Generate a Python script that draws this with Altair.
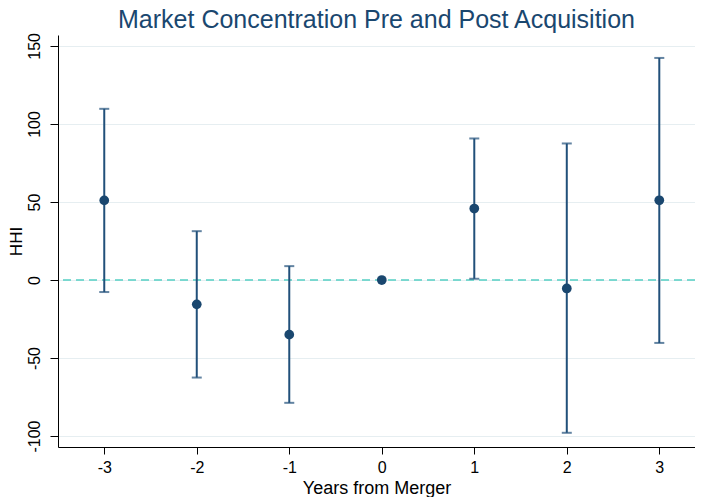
import altair as alt
import pandas as pd

# Data
years = [-3, -2, -1, 0, 1, 2, 3]
hhi = [51.0, -15.6, -35.0, 0.0, 45.8, -5.4, 51.1]
ci_low = [-7.7, -62.5, -78.7, None, 0.8, -97.9, -40.3]
ci_high = [109.7, 31.3, 8.9, None, 90.7, 87.5, 142.3]
x_ticks = [-3, -2, -1, 0, 1, 2, 3]
y_ticks = [-100, -50, 0, 50, 100, 150]

NAVY = "#1a476f"
BAR = "#21507a"
TEAL = "#55d0c4"
FONT = "Liberation Sans"

pts = pd.DataFrame({"year": years, "hhi": hhi})
bars = pd.DataFrame({"year": years, "lo": ci_low, "hi": ci_high}).dropna()
ref = pd.DataFrame({"y": [0]})

xscale = alt.Scale(domain=[-3.5, 3.386], nice=False, zero=False)
yscale = alt.Scale(domain=[-107, 157], nice=False, zero=False)

xaxis = alt.Axis(values=x_ticks, title="Years from Merger", grid=False,
                 labelFontSize=16, titleFontSize=18, tickSize=7,
                 labelPadding=5, titlePadding=4, labelExpr="datum.value + ''",
                 titleFontWeight="normal")
yaxis = alt.Axis(values=y_ticks, title="HHI", grid=True, gridColor="#e6eef1",
                 gridWidth=1.2, labelAngle=-90, labelAlign="center",
                 labelBaseline="bottom", labelFontSize=16, titleFontSize=17,
                 tickSize=8, labelPadding=8, titlePadding=1,
                 labelExpr="datum.value + ''", titleFontWeight="normal")

refline = alt.Chart(ref).mark_rule(color=TEAL, strokeDash=[8, 5], strokeWidth=1.6).encode(
    y=alt.Y("y:Q", scale=yscale, axis=yaxis)
)

err = alt.Chart(bars).mark_rule(color=BAR, strokeWidth=2).encode(
    x=alt.X("year:Q", scale=xscale, axis=xaxis),
    y=alt.Y("lo:Q", scale=yscale, axis=yaxis),
    y2="hi:Q",
)

cap_lo = alt.Chart(bars).mark_tick(color=BAR, thickness=2, size=10, orient="horizontal").encode(
    x=alt.X("year:Q", scale=xscale, axis=xaxis),
    y=alt.Y("lo:Q", scale=yscale, axis=yaxis),
)
cap_hi = alt.Chart(bars).mark_tick(color=BAR, thickness=2, size=10, orient="horizontal").encode(
    x=alt.X("year:Q", scale=xscale, axis=xaxis),
    y=alt.Y("hi:Q", scale=yscale, axis=yaxis),
)

points = alt.Chart(pts).mark_circle(color=NAVY, size=95, opacity=1).encode(
    x=alt.X("year:Q", scale=xscale, axis=xaxis),
    y=alt.Y("hhi:Q", scale=yscale, axis=yaxis),
)

chart = alt.layer(refline, err, cap_lo, cap_hi, points).properties(
    width=637,
    height=412,
    background="white",
    title=alt.TitleParams(
        "Market Concentration Pre and Post Acquisition",
        fontSize=25, font=FONT, fontWeight="normal", color=NAVY,
        anchor="middle", offset=4, dy=4,
    ),
    autosize=alt.AutoSizeParams(type="none"),
    padding={"left": 50, "top": 27, "right": 0, "bottom": 50},
).configure_view(stroke=None).configure_axis(
    labelFont=FONT, titleFont=FONT, labelColor="black", titleColor="black",
    domainColor="black", tickColor="black", domainWidth=1, tickWidth=1,
    titleFontWeight="normal",
)

chart.save("out.html", embed_options={"renderer": "svg", "actions": False})
